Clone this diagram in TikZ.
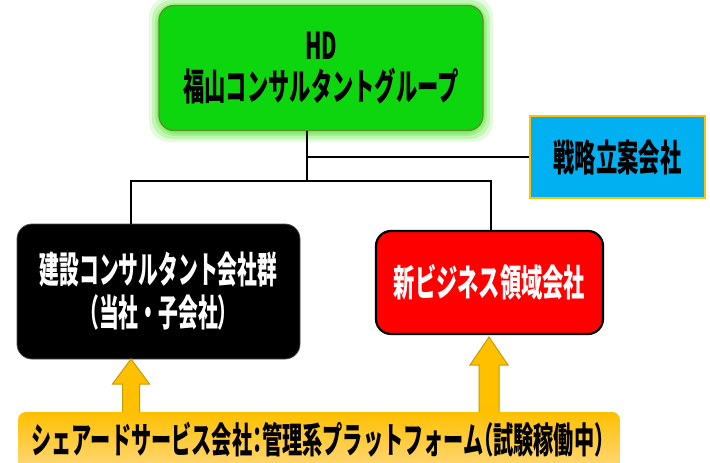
\documentclass[tikz,border=0pt]{standalone}
\usepackage{fontspec}
\newfontfamily\jp[FakeStretch=0.575]{Noto Sans CJK JP}
\newfontfamily\jpn[FakeStretch=0.535]{Noto Sans CJK JP}
\newfontfamily\jph[FakeStretch=0.56,RawFeature=+halt]{Noto Sans CJK JP}
\definecolor{hdgreen}{RGB}{14,214,14}
\definecolor{hdborder}{RGB}{90,140,40}
\definecolor{glow}{RGB}{120,235,90}
\definecolor{skyblue}{RGB}{0,176,240}
\definecolor{gold}{RGB}{255,192,0}
\definecolor{golddark}{RGB}{200,155,0}
\definecolor{goldlight}{RGB}{255,218,135}
\tikzset{
  box/.style={rounded corners=15pt, inner sep=0pt, align=center,
    font=\jp\bfseries\fontsize{37}{41}\selectfont},
  conn/.style={draw=black, line width=2.6pt},
  arr/.style={fill=gold, draw=golddark, line width=1pt, line join=miter},
}
\begin{document}
\begin{tikzpicture}[x=1pt,y=-1pt]
\clip (0,0) rectangle (710,463);
\fill[white] (0,0) rectangle (710,463);
% glow behind HD box
\foreach \g/\o in {10/0.2,7/0.3,4/0.45,2/0.6}{
  \fill[glow, opacity=\o, rounded corners=20pt] (159-\g,7-\g) rectangle (483+\g,132+\g);
}
\node[box, fill=hdgreen, draw=hdborder, line width=1.2pt,
  minimum width=324pt, minimum height=125pt] (hd) at (321,68)
  {HD\\福山コンサルタントグループ};
\node[box, rounded corners=0pt, fill=skyblue, draw=gold, line width=1.2pt,
  minimum width=175pt, minimum height=82pt] (sen) at (617.5,157) {戦略立案会社};
\node[box, fill=black, draw=black!70, line width=0.8pt, text=white,
  font=\jpn\bfseries\fontsize{37}{43}\selectfont,
  minimum width=283pt, minimum height=135pt] (ken) at (158.5,291.5)
  {建設コンサルタント会社群\\（当社・子会社）};
\node[box, fill=red, draw=black, line width=2.2pt, text=white,
  minimum width=227pt, minimum height=103pt] (shin) at (489.5,282.5) {新ビジネス領域会社};
% connectors
\coordinate (top) at ([xshift=-14pt]hd.south);
\coordinate (busL) at (131,181);
\coordinate (busR) at (491,181);
\draw[conn] (top) -- (top |- busL);
\draw[conn] (top |- sen.west) -- (sen.west);
\draw[conn, line join=miter] (ken.north -| busL) -- (busL) -- (busR) -- (busR |- shin.north);
% arrows
\coordinate (tipL) at (131,359);
\coordinate (baseL) at (131,414);
\coordinate (tipR) at (489,337);
\coordinate (baseR) at (489,415);
\draw[arr] (tipL) -- ([xshift=18.5pt,yshift=-25pt]tipL) -- ([xshift=8.5pt,yshift=-25pt]tipL)
  -- ([xshift=8.5pt]baseL) -- ([xshift=-8.5pt]baseL) -- ([xshift=-8.5pt,yshift=-25pt]tipL)
  -- ([xshift=-18.5pt,yshift=-25pt]tipL) -- cycle;
\draw[arr] (tipR) -- ([xshift=19pt,yshift=-28pt]tipR) -- ([xshift=10pt,yshift=-28pt]tipR)
  -- ([xshift=10pt]baseR) -- ([xshift=-10pt]baseR) -- ([xshift=-10pt,yshift=-28pt]tipR)
  -- ([xshift=-19pt,yshift=-28pt]tipR) -- cycle;
% shared services bar
\shade[top color=gold, bottom color=goldlight, rounded corners=8pt]
  (18,412) rectangle (620,475);
\node[inner sep=0pt, font=\jph\bfseries\fontsize{36}{40}\selectfont] (share) at (318,439.5)
  {シェアードサービス会社：管理系プラットフォーム（試験稼働中）};
\end{tikzpicture}
\end{document}
